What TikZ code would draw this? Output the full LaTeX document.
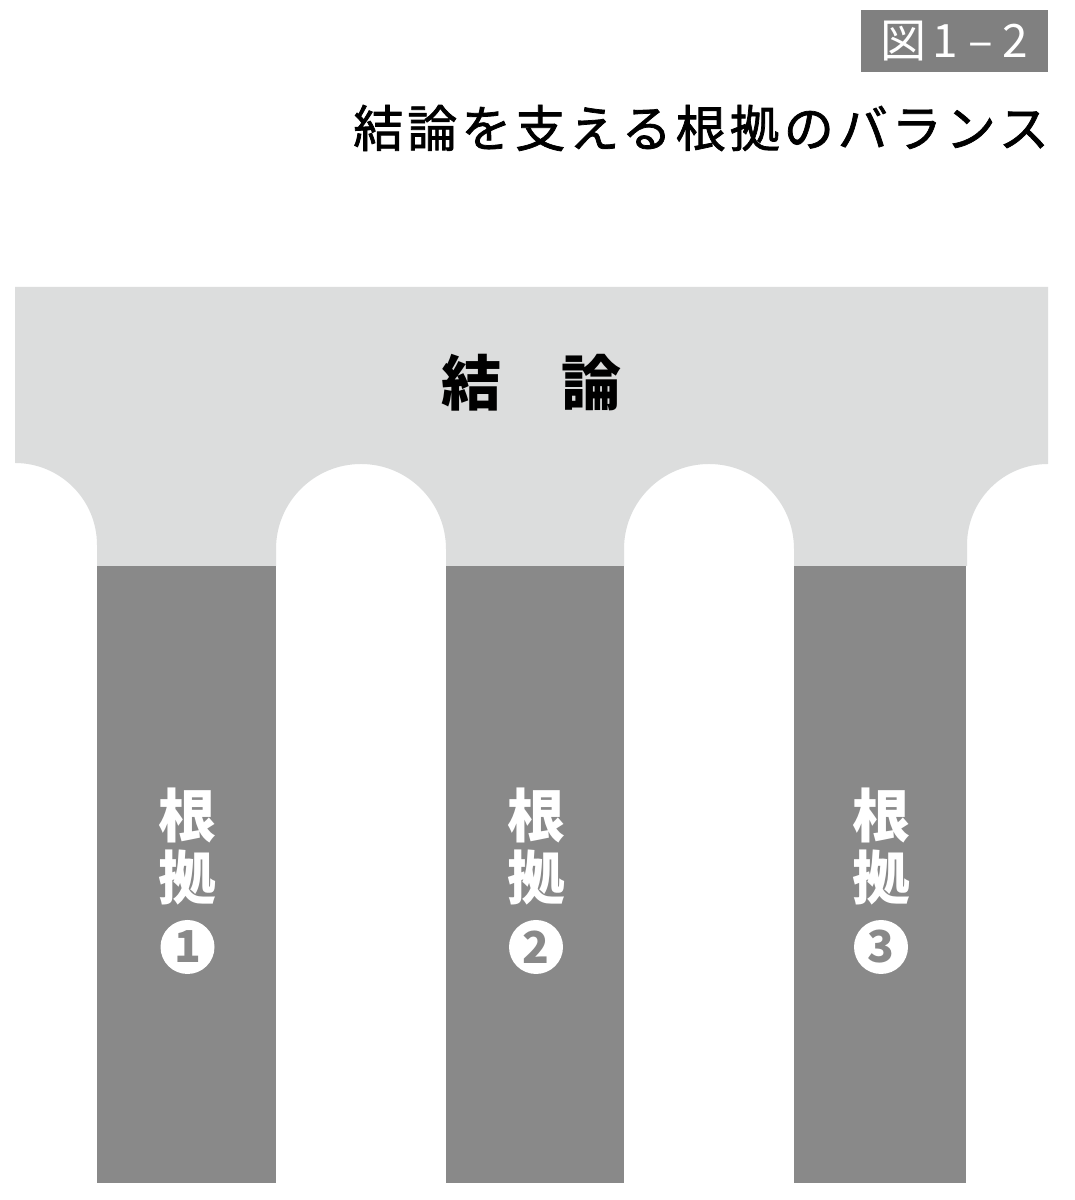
\documentclass[tikz,border=0pt]{standalone}
\usepackage{fontspec}
\usepackage{xcolor}
\usetikzlibrary{positioning}
\newfontfamily\jpfont{Noto Sans CJK JP}
\newfontfamily\jptitle[LetterSpace=8, FakeBold=1.5]{Noto Sans CJK JP}
\definecolor{band}{HTML}{DCDDDD}
\definecolor{pillar}{HTML}{898989}
\definecolor{tag}{HTML}{808080}
\tikzset{
  bandfill/.style={fill=band, draw=none},
  pillarfill/.style={fill=pillar, draw=none},
  tagbox/.style={fill=tag, text=white, minimum width=187pt, minimum height=62pt, inner sep=0pt, font=\jpfont\fontsize{46}{46}\selectfont},
  titlelbl/.style={text=black, anchor=east, inner sep=0pt, font=\jptitle\fontsize{50}{50}\selectfont},
  mainlbl/.style={text=black, inner sep=0pt, font=\jpfont\bfseries\fontsize{60}{60}\selectfont},
  pillarlbl/.style={text=white, inner sep=0pt, font=\jpfont\bfseries\fontsize{58}{58}\selectfont},
  numdot/.style={circle, fill=white, text=pillar, minimum size=54pt, inner sep=0pt, font=\jpfont\bfseries\fontsize{44}{44}\selectfont}
}
\begin{document}
\begin{tikzpicture}[x=1pt, y=1pt]
  \useasboundingbox (0,0) rectangle (1075,1200);
  \fill[white] (0,0) rectangle (1075,1200);

  % heading
  \node[tagbox] (tag) at (954.5,1159) {図\hspace{6pt}1\hspace{10pt}–\hspace{10pt}2};
  \node[titlelbl] (title) at (1049,1072) {結論を支える根拠のバランス};

  % conclusion band with arches
  \fill[bandfill] (15,913) -- (15,737) arc (90:0:82) -- (97,634) -- (276,634)
    -- (276,651) arc (180:0:85) -- (446,634) -- (624,634)
    -- (624,651) arc (180:0:85) -- (794,634) -- (967,634)
    -- (967,655) arc (180:90:81) -- (1048,913) -- cycle;
  \node[mainlbl] (concl) at (531,817) {結　論};

  % pillars
  \foreach \l/\r/\n in {97/276/1, 446/624/2, 794/966/3} {
    \fill[pillarfill] (\l,17) rectangle (\r,634);
    \node[pillarlbl] (ne\n) at ({(\l+\r)/2+1},385) {根};
    \node[pillarlbl] (ky\n) at ({(\l+\r)/2+1},322) {拠};
    \node[numdot] (num\n) at ({(\l+\r)/2+1},253) {\n};
  }
\end{tikzpicture}
\end{document}
